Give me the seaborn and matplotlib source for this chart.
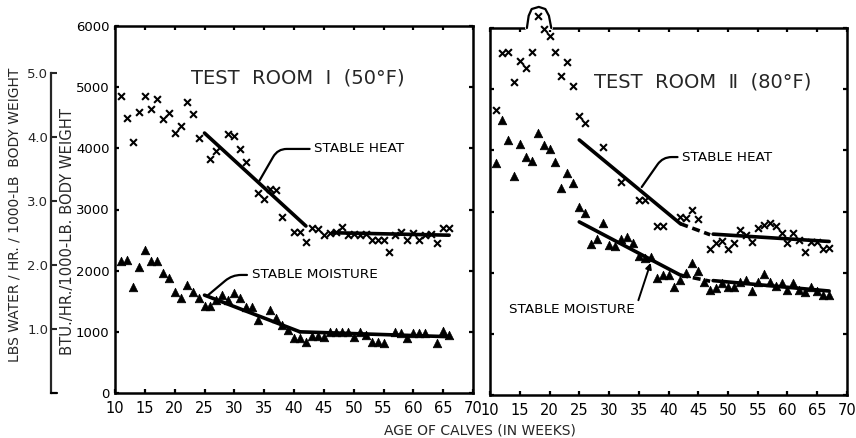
import numpy as np
import pandas as pd
import matplotlib
matplotlib.use("Agg")
import matplotlib.pyplot as plt
import seaborn as sns

# ---------------- data ----------------
# Test room I (50 F)
room1_heat_weeks = [11, 12, 13, 14, 15, 16, 17, 18, 19, 20, 21, 22, 23, 24, 26, 27, 29, 30, 31, 32,
                    34, 35, 36, 37, 38, 40, 41, 42, 43, 44, 45, 46, 47, 48, 49, 50, 51, 52, 53, 54,
                    55, 56, 57, 58, 59, 60, 61, 62, 63, 64, 65, 66]
room1_heat_btu = [4850, 4500, 4100, 4600, 4850, 4650, 4800, 4480, 4580, 4250, 4370, 4750, 4560, 4170,
                  3830, 3960, 4230, 4200, 3990, 3780, 3270, 3170, 3340, 3320, 2880, 2630, 2630, 2470,
                  2700, 2680, 2580, 2610, 2630, 2710, 2580, 2600, 2590, 2600, 2500, 2500, 2500, 2300,
                  2580, 2630, 2500, 2620, 2500, 2580, 2600, 2450, 2700, 2700]
room1_moist_weeks = [11, 12, 13, 14, 15, 16, 17, 18, 19, 20, 21, 22, 23, 24, 25, 26, 27, 28, 29, 30,
                     31, 32, 33, 34, 36, 37, 38, 39, 40, 41, 42, 43, 44, 45, 46, 47, 48, 49, 50, 51,
                     52, 53, 54, 55, 57, 58, 59, 60, 61, 62, 64, 65, 66]
room1_moist_btu = [2150, 2180, 1730, 2060, 2340, 2160, 2160, 1960, 1880, 1650, 1550, 1770, 1650, 1550,
                   1420, 1420, 1520, 1600, 1520, 1630, 1550, 1410, 1410, 1190, 1360, 1230, 1110, 1030,
                   900, 900, 830, 930, 930, 920, 1000, 1000, 1000, 1000, 920, 1000, 950, 840, 840, 820,
                   1000, 980, 900, 980, 980, 980, 820, 1020, 950]

# Test room II (80 F)
room2_heat_weeks = [11, 12, 13, 14, 15, 16, 17, 18, 19, 20, 21, 22, 23, 24, 25, 26, 29, 32, 35, 36,
                    38, 39, 42, 43, 44, 45, 47, 48, 49, 50, 51, 52, 53, 54, 55, 56, 57, 58, 59, 60,
                    61, 62, 63, 64, 65, 66, 67]
room2_heat_btu = [4660, 5590, 5610, 5120, 5460, 5350, 5610, 6200, 5980, 5870, 5610, 5220, 5440, 5050,
                  4560, 4450, 4050, 3480, 3190, 3190, 2760, 2760, 2910, 2890, 3020, 2880, 2390, 2490,
                  2520, 2390, 2490, 2700, 2620, 2500, 2730, 2780, 2810, 2760, 2650, 2490, 2650, 2530,
                  2340, 2500, 2500, 2390, 2400]
room2_moist_weeks = [11, 12, 13, 14, 15, 16, 17, 18, 19, 20, 21, 22, 23, 24, 25, 26, 27, 28, 29, 30,
                     31, 32, 33, 34, 35, 36, 37, 38, 39, 40, 41, 42, 43, 44, 45, 46, 47, 48, 49, 50,
                     51, 52, 53, 54, 55, 56, 57, 58, 59, 60, 61, 62, 63, 64, 65, 66, 67]
room2_moist_btu = [3790, 4500, 4170, 3580, 4100, 3890, 3830, 4280, 4090, 4020, 3810, 3380, 3630, 3470,
                   3070, 2980, 2470, 2550, 2810, 2450, 2440, 2550, 2580, 2490, 2270, 2240, 2260, 1910,
                   1960, 1960, 1770, 1880, 2000, 2160, 2030, 1850, 1720, 1750, 1830, 1770, 1770, 1850,
                   1880, 1700, 1850, 1980, 1850, 1780, 1830, 1720, 1830, 1720, 1680, 1770, 1700, 1640,
                   1640]

# fitted "stable" lines: (weeks, BTU, dashed?)
room1_fits = [([25, 42], [4250, 2730], False),
              ([46.5, 66], [2620, 2580], False),
              ([25, 41], [1600, 1000], False),
              ([41, 66], [1000, 920], False)]
room2_fits = [([25, 42], [4170, 2800], False),
              ([42, 47], [2800, 2620], True),
              ([47.5, 67], [2630, 2510], False),
              ([25, 42], [2830, 1960], False),
              ([42, 47], [1960, 1860], True),
              ([47.5, 67], [1870, 1700], False)]

x_ticks = list(range(10, 71, 5))
y_ticks = list(range(0, 6001, 1000))
water_ticks = [1, 2, 3, 4, 5]
BTU_PER_LB_WATER = 1045.0

titles = ["TEST  ROOM  \u2160  (50\u00b0F)", "TEST  ROOM  \u2161  (80\u00b0F)"]

# ---------------- style ----------------
sns.set_style("white")
plt.rcParams["font.family"] = ["DejaVu Sans"]
plt.rcParams["axes.linewidth"] = 1.8

fig = plt.figure(figsize=(8.56, 4.38), dpi=100)
axL = fig.add_axes([115 / 856, 45 / 438, 358 / 856, 367 / 438])
axR = fig.add_axes([490 / 856, 43 / 438, 357 / 856, 367 / 438])


def draw_panel(ax, hw, hv, mw, mv, fits):
    sns.scatterplot(x=hw, y=hv, marker="x", color="black", s=24, linewidth=1.5,
                    ax=ax, clip_on=False, zorder=4)
    sns.scatterplot(x=mw, y=mv, marker="^", color="black", s=38, edgecolor="black",
                    linewidth=0.5, ax=ax, zorder=4)
    for w, v, dashed in fits:
        sns.lineplot(x=w, y=v, color="black", linewidth=2.6,
                     linestyle=(0, (2.2, 1.3)) if dashed else "-", ax=ax, zorder=3)
    ax.set_xlim(10, 70)
    ax.set_ylim(0, 6000)
    ax.set_xticks(x_ticks)
    ax.set_xticklabels([str(t) for t in x_ticks])
    ax.set_yticks(y_ticks)
    ax.set_xlabel("")
    ax.set_ylabel("")
    for s in ax.spines.values():
        s.set_visible(True)
        s.set_color("black")
        s.set_linewidth(1.8)
    ax.tick_params(axis="x", direction="in", top=True, bottom=True, length=3, width=1.6,
                   labelsize=10.5, pad=6, colors="black")
    ax.tick_params(axis="y", direction="in", left=True, right=True, length=3, width=1.6,
                   labelsize=9.5, pad=4, colors="black")


draw_panel(axL, room1_heat_weeks, room1_heat_btu, room1_moist_weeks, room1_moist_btu, room1_fits)
draw_panel(axR, room2_heat_weeks, room2_heat_btu, room2_moist_weeks, room2_moist_btu, room2_fits)
axR.tick_params(axis="y", labelleft=False)

# titles inside the panels
axL.text(0.51, 0.857, titles[0], transform=axL.transAxes, ha="center", va="center", fontsize=14)
axR.text(0.595, 0.852, titles[1], transform=axR.transAxes, ha="center", va="center", fontsize=14)

# bump in the frame around the off-scale point of room II
pk = int(np.argmax(room2_heat_btu))
pw = room2_heat_weeks[pk]
axR.plot([pw - 1.7, pw + 2.2], [6000, 6000], color="white", lw=3, clip_on=False, zorder=2.6)
axR.plot([pw - 1.8, pw - 1.5, pw - 1.0, pw + 0.2, pw + 1.3, pw + 1.9, pw + 2.3],
         [6000, 6200, 6310, 6345, 6310, 6200, 6000], color="black", lw=1.6,
         clip_on=False, zorder=2.7)

# call-outs
lab_kw = dict(fontsize=9.7, color="black")
axL.annotate("STABLE HEAT", xy=(34.2, 3470), xytext=(43.4, 3990), ha="left", va="center",
             arrowprops=dict(arrowstyle="-", color="black", lw=1.6, shrinkA=1, shrinkB=0,
                             connectionstyle="angle,angleA=0,angleB=60,rad=9"), **lab_kw)
axL.annotate("STABLE MOISTURE", xy=(25.6, 1600), xytext=(32.9, 1930), ha="left", va="center",
             arrowprops=dict(arrowstyle="-", color="black", lw=1.6, shrinkA=1, shrinkB=0,
                             connectionstyle="angle,angleA=0,angleB=40,rad=9"), **lab_kw)
axR.annotate("STABLE HEAT", xy=(35.5, 3400), xytext=(42.3, 3890), ha="left", va="center",
             arrowprops=dict(arrowstyle="-", color="black", lw=1.6, shrinkA=1, shrinkB=0,
                             connectionstyle="angle,angleA=0,angleB=55,rad=9"), **lab_kw)
axR.annotate("STABLE MOISTURE", xy=(37.0, 2160), xytext=(34.4, 1390), ha="right", va="center",
             arrowprops=dict(arrowstyle="-|>,head_length=0.35,head_width=0.18", color="black",
                             lw=1.4, shrinkA=0, shrinkB=0, relpos=(1.0, 0.5),
                             connectionstyle="arc3"), **lab_kw)

# BTU axis label (inner)
axL.set_ylabel("BTU./HR./1000-LB. BODY WEIGHT", fontsize=10.6)
axL.yaxis.set_label_coords(-0.112, 0.44)

# secondary axis: lbs water
sec = axL.secondary_yaxis(-0.179, functions=(lambda b: b / BTU_PER_LB_WATER,
                                              lambda w: w * BTU_PER_LB_WATER))
sec.set_yticks(water_ticks)
sec.set_yticklabels([f"{t:.1f}" for t in water_ticks])
sec.spines["left"].set_bounds(0, 5)
sec.spines["left"].set_linewidth(1.6)
sec.tick_params(axis="y", direction="in", length=4, width=1.5, labelsize=9.5, pad=2)
sec.set_ylabel("LBS WATER / HR. / 1000-LB  BODY WEIGHT", fontsize=10)
sec.yaxis.set_label_coords(-0.262, 0.485, transform=axL.transAxes)
axL.plot([-0.179, -0.163], [0, 0], transform=axL.transAxes, color="black", lw=1.6,
         clip_on=False)

fig.text(480 / 856, 1 - 430 / 438, "AGE OF CALVES (IN WEEKS)", ha="center", va="center",
         fontsize=10)

fig.savefig("out.png", dpi=100, facecolor="white")
